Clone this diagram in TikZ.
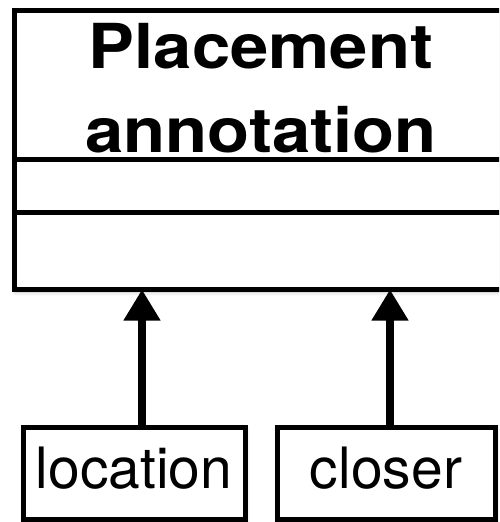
\documentclass[tikz,border=0pt]{standalone}
\usepackage{fontspec}
\usepackage{graphicx}
\setmainfont{TeX Gyre Heros}
\usetikzlibrary{arrows.meta,shadows.blur}
\begin{document}
\begin{tikzpicture}[x=1pt,y=-1pt,
  box/.style={draw=black, fill=white, line width=5pt, inner sep=0pt,
    blur shadow={shadow xshift=1pt, shadow yshift=-3pt, shadow blur radius=4pt, shadow opacity=25}},
  sep/.style={line width=5pt},
  lbl/.style={font=\fontsize{57}{60}\selectfont, text height=42pt, text depth=12pt},
  ttl/.style={font=\fontsize{62}{84}\bfseries, inner sep=0pt, anchor=base},
  arr/.style={line width=7.5pt, -{Triangle[length=31pt,width=35pt]}, shorten >=-2pt}]
\useasboundingbox (0,0) rectangle (499,522);
\clip (0,0) rectangle (499,522);
\node[box, minimum width=494pt, minimum height=279pt] (pa) at (261,149.5) {};
\node[ttl] (title) at (261,68) {\scalebox{1.11}[1]{\vtop{\baselineskip=84pt\halign{\hfil#\hfil\cr Placement\cr annotation\cr}}}};
\draw[sep] ([yshift=-152pt]pa.north west) -- ([yshift=-152pt]pa.north east);
\draw[sep] ([yshift=-205pt]pa.north west) -- ([yshift=-205pt]pa.north east);
\node[box, lbl, minimum width=222pt, minimum height=92pt] (loc) at (134,473) {location};
\node[box, lbl, minimum width=218pt, minimum height=92pt] (clo) at (386,473) {closer};
\draw[arr] ([xshift=8pt]loc.north) -- ([xshift=8pt]loc.north |- pa.south);
\draw[arr] ([xshift=4pt]clo.north) -- ([xshift=4pt]clo.north |- pa.south);
\end{tikzpicture}
\end{document}
